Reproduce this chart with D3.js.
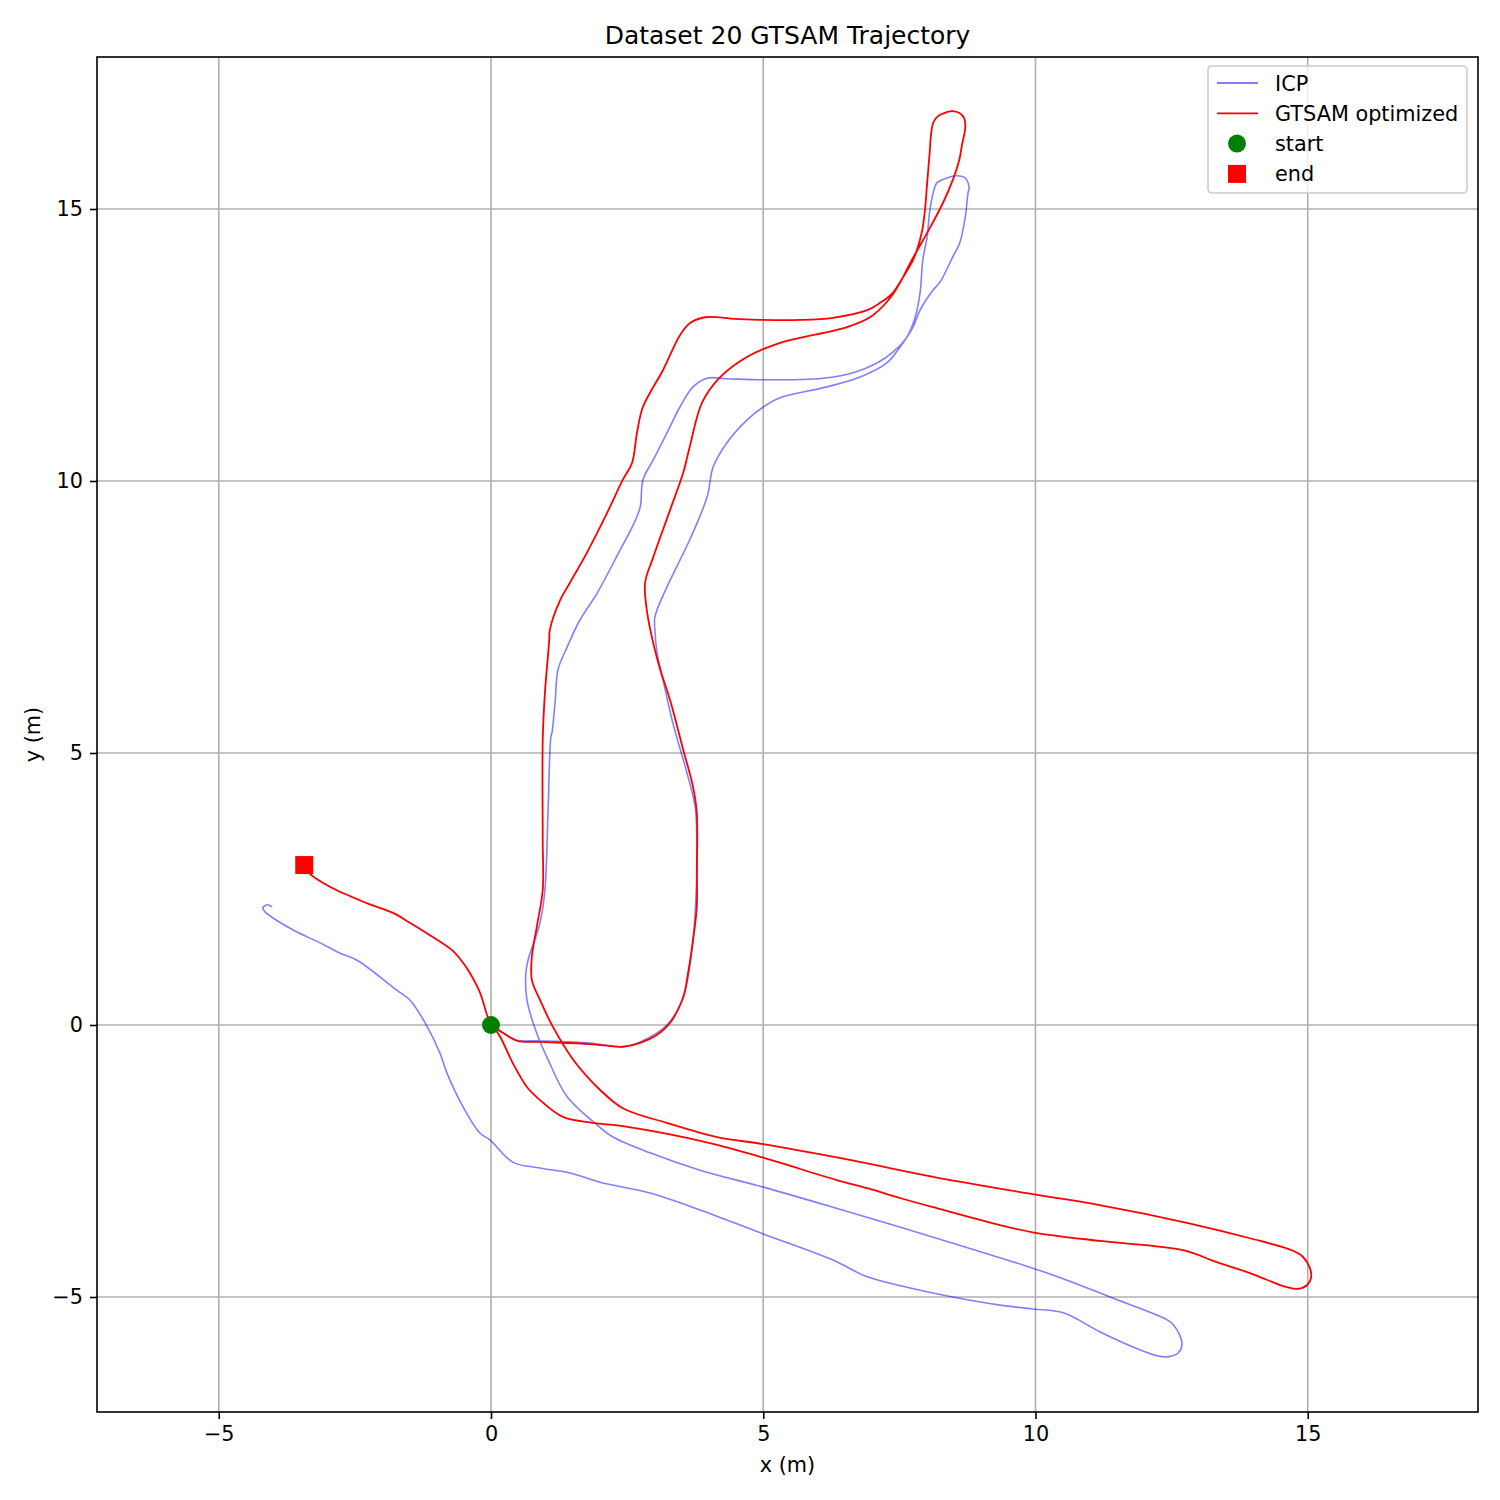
<!DOCTYPE html>
<html>
<head>
<meta charset="utf-8">
<script src="https://cdn.jsdelivr.net/npm/d3@7"></script>
<style>
  body { margin: 0; background: #fff; }
  svg text { font-family: "DejaVu Sans", sans-serif; fill: #000; }
</style>
</head>
<body>
<svg width="1500" height="1500"></svg>
<script>
const title = "Dataset 20 GTSAM Trajectory";

// ICP trajectory (x, y in metres)
const icp = [
  [0,0],[0.04,-0.04],[0.22,-0.15],[0.48,-0.28],[0.90,-0.29],[1.82,-0.33],[2.42,-0.40],[2.74,-0.31],
  [3.23,0.00],[3.53,0.51],[3.71,1.56],[3.78,2.79],[3.78,3.40],[3.75,4.01],[3.60,4.63],[3.34,5.55],
  [3.16,6.34],[3.05,6.84],[3.01,7.26],[3.01,7.50],[3.23,8.05],[3.65,8.92],[3.97,9.71],[4.08,10.26],
  [4.33,10.70],[4.70,11.12],[5.00,11.36],[5.31,11.53],[6.17,11.73],[6.78,11.91],[7.27,12.17],[7.51,12.46],
  [7.75,12.83],[7.88,13.14],[8.12,13.51],[8.25,13.66],[8.48,14.12],[8.61,14.38],[8.71,14.85],[8.76,15.29],
  [8.78,15.40],[8.71,15.57],[8.56,15.61],[8.37,15.57],[8.19,15.48],[8.12,15.29],[8.06,14.98],[8.01,14.49],
  [7.93,14.06],[7.88,13.46],[7.79,13.01],[7.64,12.65],[7.38,12.37],[7.09,12.17],[6.65,11.99],[6.10,11.89],
  [5.00,11.86],[4.33,11.88],[3.97,11.89],[3.71,11.73],[3.47,11.36],[3.23,10.88],[2.98,10.39],[2.79,10.02],
  [2.74,9.52],[2.61,9.19],[2.37,8.73],[1.95,7.94],[1.63,7.44],[1.40,6.95],[1.23,6.53],[1.18,5.97],
  [1.12,5.37],[1.10,5.30],[1.05,4.01],[0.99,2.48],[0.90,1.88],[0.68,1.19],[0.64,0.96],[0.66,0.46],
  [0.84,-0.15],[1.05,-0.64],[1.40,-1.32],[2.00,-1.88],[2.24,-2.06],[2.92,-2.35],[3.84,-2.67],[5.00,-2.98],
  [6.28,-3.35],[8.12,-3.90],[9.95,-4.47],[10.58,-4.69],[11.37,-5.00],[12.42,-5.42],[12.53,-5.51],[12.65,-5.70],
  [12.69,-5.88],[12.62,-6.03],[12.42,-6.10],[12.23,-6.08],[11.79,-5.92],[11.18,-5.64],[10.51,-5.29],[9.95,-5.22],
  [9.35,-5.15],[8.48,-5.00],[7.64,-4.82],[6.91,-4.63],[6.28,-4.32],[5.00,-3.84],[3.84,-3.40],[2.92,-3.09],
  [2.00,-2.89],[1.45,-2.72],[0.90,-2.63],[0.40,-2.52],[-0.02,-2.11],[-0.20,-1.99],[-0.51,-1.51],[-0.81,-0.88],
  [-0.94,-0.51],[-1.21,0.04],[-1.49,0.46],[-1.73,0.64],[-2.46,1.19],[-2.77,1.32],[-3.14,1.51],[-3.64,1.75],
  [-4.15,2.08],[-4.19,2.15],[-4.11,2.21],[-4.02,2.17]
];

// GTSAM optimized trajectory
const gtsam = [
  [0,0],[0.17,-0.11],[0.48,-0.29],[0.90,-0.31],[1.82,-0.35],[2.42,-0.40],[2.74,-0.33],[3.05,-0.18],
  [3.29,0.04],[3.53,0.51],[3.62,0.96],[3.71,1.56],[3.78,2.17],[3.78,2.79],[3.78,3.90],[3.71,4.38],
  [3.53,5.06],[3.29,5.97],[3.10,6.56],[2.98,7.02],[2.87,7.57],[2.83,8.13],[2.98,8.60],[3.29,9.47],
  [3.53,10.15],[3.65,10.63],[3.88,11.45],[4.21,11.91],[4.70,12.28],[5.31,12.54],[5.67,12.63],[6.54,12.83],
  [6.96,13.01],[7.27,13.29],[7.51,13.64],[7.70,14.01],[8.01,14.56],[8.30,15.11],[8.48,15.53],[8.60,15.90],
  [8.65,16.18],[8.71,16.49],[8.69,16.67],[8.61,16.76],[8.48,16.80],[8.37,16.78],[8.19,16.69],[8.12,16.58],
  [8.08,16.36],[8.06,16.08],[8.01,15.48],[7.97,14.98],[7.92,14.61],[7.84,14.30],[7.75,14.06],[7.57,13.75],
  [7.38,13.46],[7.14,13.27],[6.91,13.14],[6.28,13.00],[5.67,12.96],[5.00,12.96],[4.48,12.98],[3.93,13.01],
  [3.65,12.90],[3.47,12.68],[3.16,12.04],[2.79,11.36],[2.68,10.88],[2.59,10.33],[2.42,10.02],[2.13,9.41],
  [1.76,8.68],[1.45,8.13],[1.27,7.81],[1.08,7.26],[1.07,7.08],[0.99,6.10],[0.95,5.24],[0.95,3.40],
  [0.95,2.48],[0.84,1.80],[0.75,1.25],[0.75,0.83],[0.90,0.46],[1.14,-0.04],[1.51,-0.64],[1.82,-1.01],
  [2.00,-1.19],[2.42,-1.53],[3.23,-1.80],[4.15,-2.06],[5.00,-2.19],[6.59,-2.48],[8.12,-2.79],[9.95,-3.11],
  [11.18,-3.31],[12.80,-3.64],[13.94,-3.92],[14.73,-4.15],[14.91,-4.26],[15.04,-4.47],[15.06,-4.65],[14.99,-4.78],
  [14.82,-4.85],[14.62,-4.82],[14.49,-4.78],[13.94,-4.56],[13.33,-4.36],[12.71,-4.14],[11.18,-3.97],[9.95,-3.81],
  [9.35,-3.68],[8.12,-3.35],[7.51,-3.18],[6.91,-3.00],[6.35,-2.85],[5.00,-2.44],[4.02,-2.17],[2.42,-1.86],
  [1.87,-1.80],[1.32,-1.69],[0.90,-1.38],[0.66,-1.14],[0.40,-0.70],[0.17,-0.22],[0.02,0.00],[-0.06,0.15],
  [-0.20,0.59],[-0.39,0.96],[-0.51,1.14],[-0.72,1.38],[-1.12,1.65],[-1.49,1.88],[-1.80,2.06],[-2.28,2.24],
  [-2.96,2.54],[-3.35,2.80],[-3.43,2.94]
];

const xTicks = [-5, 0, 5, 10, 15];
const yTicks = [-5, 0, 5, 10, 15];
const xDomain = [-7.236, 18.127];
const yDomain = [-7.114, 17.794];

const legendLabels = ["ICP", "GTSAM optimized", "start", "end"];

const margin = {left: 97, right: 1478, top: 57, bottom: 1412};
const svg = d3.select("svg");

const x = d3.scaleLinear().domain(xDomain).range([margin.left, margin.right]);
const y = d3.scaleLinear().domain(yDomain).range([margin.bottom, margin.top]);

const fmt = function(d) { return d < 0 ? "\u2212" + Math.abs(d) : "" + d; };

// grid
svg.append("g").selectAll("line").data(xTicks).enter().append("line")
  .attr("x1", function(d) { return x(d); }).attr("x2", function(d) { return x(d); })
  .attr("y1", margin.top).attr("y2", margin.bottom)
  .attr("stroke", "#b0b0b0").attr("stroke-width", 1.6);
svg.append("g").selectAll("line").data(yTicks).enter().append("line")
  .attr("y1", function(d) { return y(d); }).attr("y2", function(d) { return y(d); })
  .attr("x1", margin.left).attr("x2", margin.right)
  .attr("stroke", "#b0b0b0").attr("stroke-width", 1.6);

// trajectories
const line = d3.line()
  .x(function(d) { return x(d[0]); })
  .y(function(d) { return y(d[1]); })
  .curve(d3.curveCatmullRom.alpha(0.5));

svg.append("path").datum(icp)
  .attr("d", line).attr("fill", "none")
  .attr("stroke", "blue").attr("stroke-opacity", 0.5).attr("stroke-width", 1.6)
  .attr("stroke-linejoin", "round");

svg.append("path").datum(gtsam)
  .attr("d", line).attr("fill", "none")
  .attr("stroke", "red").attr("stroke-width", 1.8)
  .attr("stroke-linejoin", "round");

// start / end markers
const start = gtsam[0], end = gtsam[gtsam.length - 1];
svg.append("circle").attr("cx", x(start[0])).attr("cy", y(start[1])).attr("r", 9).attr("fill", "green");
svg.append("rect").attr("x", x(end[0]) - 9).attr("y", y(end[1]) - 9)
  .attr("width", 18).attr("height", 18).attr("fill", "red");

// axes
svg.append("g").attr("transform", "translate(0," + margin.bottom + ")")
  .call(d3.axisBottom(x).tickValues(xTicks).tickFormat(fmt).tickSize(7).tickPadding(7))
  .call(function(g) { g.select(".domain").remove(); })
  .selectAll("text").attr("font-size", 20.8).attr("font-family", "DejaVu Sans");
svg.append("g").attr("transform", "translate(" + margin.left + ",0)")
  .call(d3.axisLeft(y).tickValues(yTicks).tickFormat(fmt).tickSize(7).tickPadding(7))
  .call(function(g) { g.select(".domain").remove(); })
  .selectAll("text").attr("font-size", 20.8).attr("font-family", "DejaVu Sans");
svg.selectAll(".tick line").attr("stroke", "#000").attr("stroke-width", 1.6);

svg.append("rect").attr("x", margin.left).attr("y", margin.top)
  .attr("width", margin.right - margin.left).attr("height", margin.bottom - margin.top)
  .attr("fill", "none").attr("stroke", "#000").attr("stroke-width", 1.6);

// labels
svg.append("text").attr("x", (margin.left + margin.right) / 2).attr("y", 44)
  .attr("text-anchor", "middle").attr("font-size", 25).text(title);
svg.append("text").attr("x", (margin.left + margin.right) / 2).attr("y", 1472)
  .attr("text-anchor", "middle").attr("font-size", 20.8).text("x (m)");
svg.append("text").attr("transform", "translate(40," + (margin.top + margin.bottom) / 2 + ") rotate(-90)")
  .attr("text-anchor", "middle").attr("font-size", 20.8).text("y (m)");

// legend
const legend = svg.append("g").attr("transform", "translate(1208,66)");
legend.append("rect").attr("width", 259).attr("height", 127).attr("rx", 4)
  .attr("fill", "#fff").attr("fill-opacity", 0.8).attr("stroke", "#ccc").attr("stroke-width", 1.6);

const rows = legend.selectAll("g.row").data(legendLabels).enter().append("g")
  .attr("class", "row")
  .attr("transform", function(d, i) { return "translate(0," + (17 + 30.3 * i) + ")"; });

rows.append("text").attr("x", 67).attr("y", 7.5).attr("font-size", 20.8).text(function(d) { return d; });

rows.filter(function(d, i) { return i < 2; }).append("line")
  .attr("x1", 9).attr("x2", 50).attr("y1", 0).attr("y2", 0)
  .attr("stroke", function(d, i) { return i === 0 ? "blue" : "red"; })
  .attr("stroke-opacity", function(d, i) { return i === 0 ? 0.5 : 1; })
  .attr("stroke-width", 1.8);
rows.filter(function(d, i) { return i === 2; }).append("circle")
  .attr("cx", 29).attr("cy", 0).attr("r", 9).attr("fill", "green");
rows.filter(function(d, i) { return i === 3; }).append("rect")
  .attr("x", 20).attr("y", -9).attr("width", 18).attr("height", 18).attr("fill", "red");
</script>
</body>
</html>
